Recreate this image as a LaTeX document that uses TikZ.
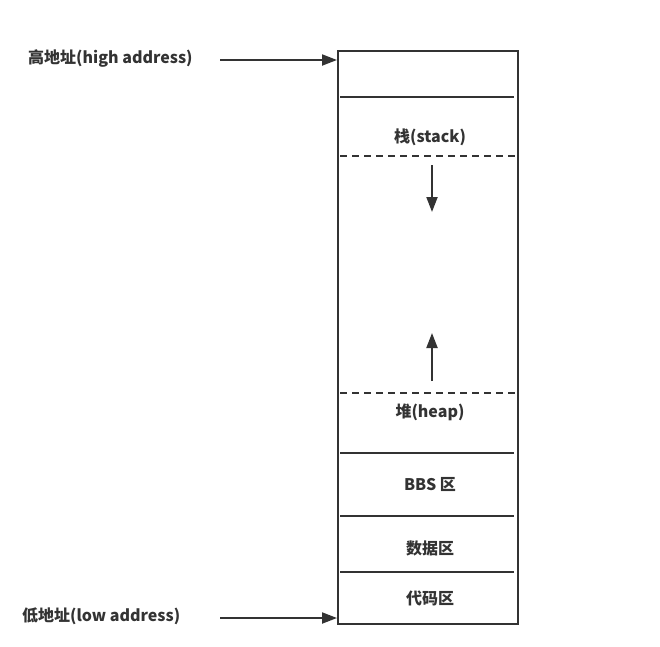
\documentclass[tikz,border=0pt]{standalone}
\usepackage{fontspec}
\setmainfont{Noto Sans CJK SC}
\usetikzlibrary{arrows.meta}

\definecolor{inkgray}{HTML}{333333}

\tikzset{
  lbl/.style={text=inkgray, font=\fontsize{16}{19}\selectfont\bfseries, inner sep=0pt},
  divider/.style={draw=inkgray, line width=2pt},
  boundary/.style={draw=inkgray, line width=2pt, dash pattern=on 7pt off 5pt},
  pointer/.style={draw=inkgray, line width=2pt, -{Triangle[length=15pt,width=11pt]}}
}

\begin{document}
\begin{tikzpicture}[x=1pt,y=-1pt]
        \useasboundingbox (0,0) rectangle (660,646);

        % Memory block
        \node (mem) [draw=inkgray, line width=2pt, minimum width=180pt, minimum height=573pt, inner sep=0pt] at (428,337.5) {};

        % Segment borders
        \draw[divider] (340,97) -- (514,97);
        \draw[boundary] (340,156) -- (516,156);
        \draw[boundary] (340,393) -- (516,393);
        \draw[divider] (340,453) -- (514,453);
        \draw[divider] (340,516) -- (514,516);
        \draw[divider] (340,572) -- (514,572);

        % Segment names
        \node[lbl] (stack) at (430,137) {栈(stack)};
        \node[lbl] (heap) at (430,412) {堆(heap)};
        \node[lbl] (bss) at (430,484) {BBS 区};
        \node[lbl] (data) at (430,548) {数据区};
        \node[lbl] (text) at (430,598) {代码区};

        % Growth directions
        \coordinate (stackFrom) at (432,165);
        \coordinate (stackTo) at (432,212);
        \coordinate (heapFrom) at (432,381);
        \coordinate (heapTo) at (432,333);
        \draw[pointer] (stackFrom) -- (stackTo);
        \draw[pointer] (heapFrom) -- (heapTo);

        % Address ends
        \node[lbl, anchor=west] (high) at (28,58) {高地址(high address)};
        \node[lbl, anchor=west] (low) at (22,616) {低地址(low address)};
        \coordinate (highFrom) at (220,60);
        \coordinate (lowFrom) at (220,618);
        \draw[pointer] (highFrom) -- (mem.west |- highFrom);
        \draw[pointer] (lowFrom) -- (mem.west |- lowFrom);
    \end{tikzpicture}
\end{document}
